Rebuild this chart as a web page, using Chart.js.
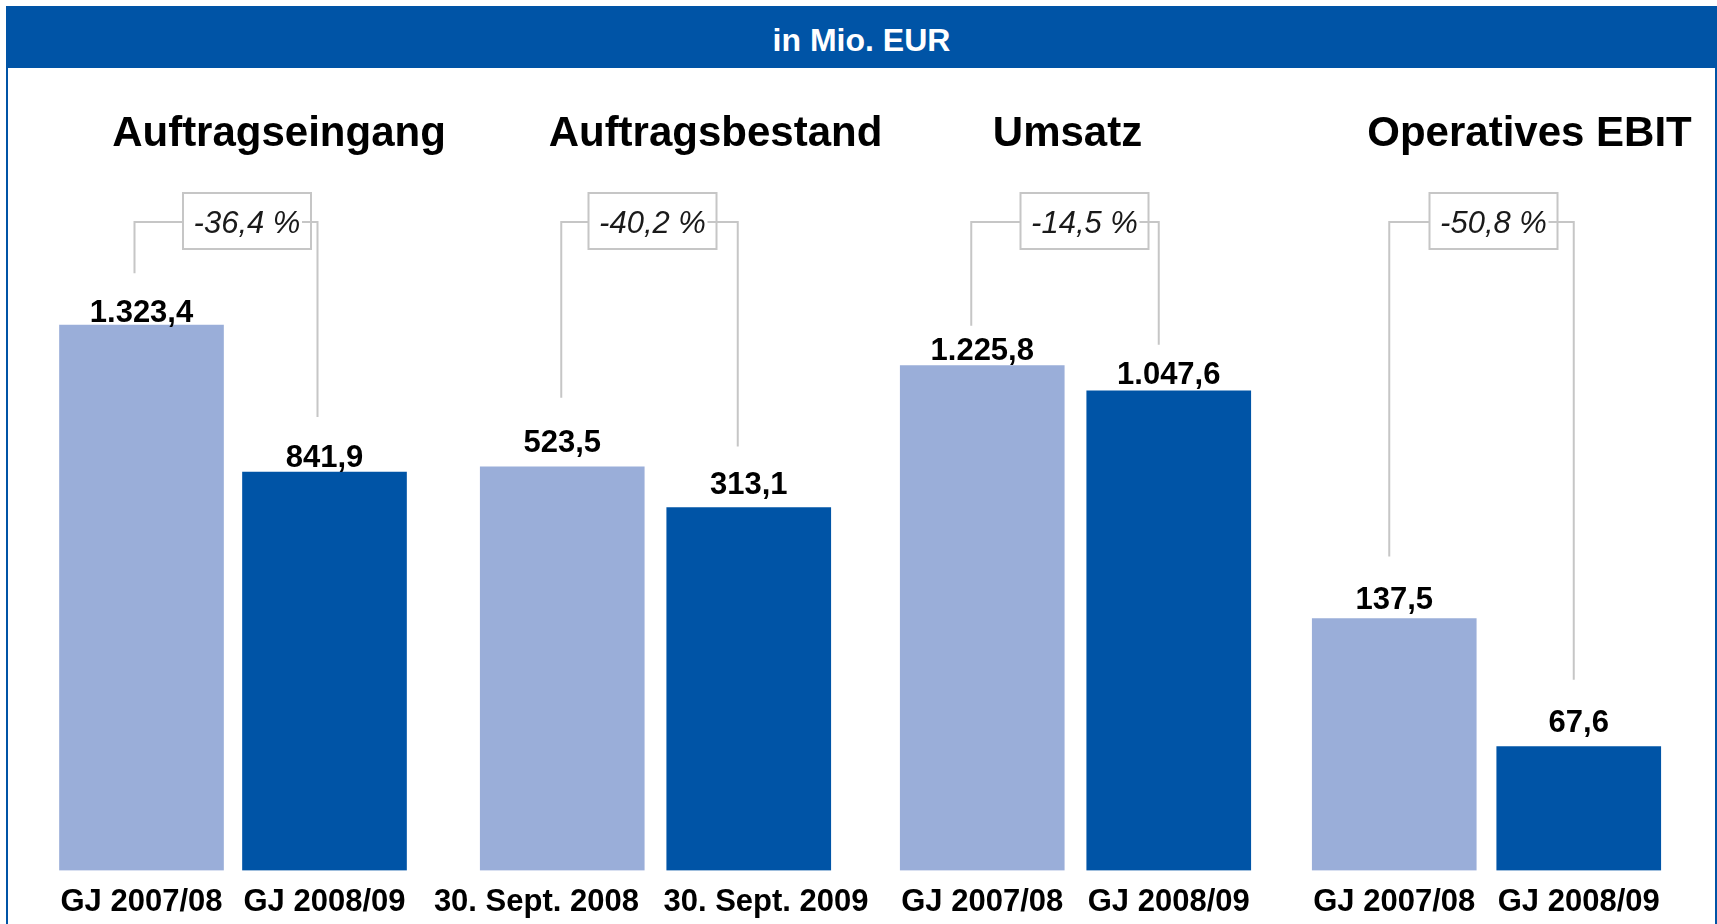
<!DOCTYPE html>
<html>
<head>
<meta charset="utf-8">
<title>in Mio. EUR</title>
<script src="https://cdn.jsdelivr.net/npm/chart.js@4.4.1/dist/chart.umd.min.js"></script>
<style>
  html, body { margin: 0; padding: 0; background: #fff; }
  body { width: 1717px; height: 924px; position: relative; overflow: hidden; font-family: "Liberation Sans", Arial, sans-serif; }
  #frame { position: absolute; left: 6px; top: 6px; width: 1711px; height: 940px; box-sizing: border-box; border-left: 2px solid #0054a6; border-right: 2px solid #0054a6; }
  #band { height: 62px; background: #0054a6; color: #fff; font-weight: bold; font-size: 32px; line-height: 68px; text-align: center; }
  canvas.panel { position: absolute; left: 0; top: 0; }
</style>
</head>
<body>
<div id="frame"><div id="band">in Mio. EUR</div></div>
<canvas class="panel" id="panel0" width="1717" height="924"></canvas>
<canvas class="panel" id="panel1" width="1717" height="924"></canvas>
<canvas class="panel" id="panel2" width="1717" height="924"></canvas>
<canvas class="panel" id="panel3" width="1717" height="924"></canvas>
<script>
const panel_titles = ["Auftragseingang", "Auftragsbestand", "Umsatz", "Operatives EBIT"];
const period_labels = [
  ["GJ 2007/08", "GJ 2008/09"],
  ["30. Sept. 2008", "30. Sept. 2009"],
  ["GJ 2007/08", "GJ 2008/09"],
  ["GJ 2007/08", "GJ 2008/09"]
];
const previous_values = [1323.4, 523.5, 1225.8, 137.5];
const current_values = [841.9, 313.1, 1047.6, 67.6];

const LIGHT = "#9aaed9";
const DARK = "#0054a6";
const LINE = "#c6c6c6";
const FONT = '"Liberation Sans", Arial, sans-serif';
const TICK_SIZE = 31;

// where each panel sits and how its (non proportional) value axis is cut
const panel_layout = [
  { left: 50, right: 416, yMin: -465, yMax: 1734, titleDx: 46, boxDx: 14, lineDx: [-7, -7], labelGap: [3, 5], lineGap: [27, 28], tickShift: [0, 0] },
  { left: 469, right: 842, yMin: -1559, yMax: 1899, titleDx: 60, boxDx: -3, lineDx: [-1, -11], labelGap: [15, 14], lineGap: [32, 25], tickShift: [-24, 16] },
  { left: 889, right: 1262, yMin: -2358, yMax: 2402, titleDx: -8, boxDx: 9, lineDx: [-11, -10], labelGap: [6, 7], lineGap: [12, 17], tickShift: [0, 0] },
  { left: 1302, right: 1671, yMin: 0, yMax: 366, titleDx: 43, boxDx: 7, lineDx: [-5, -5], labelGap: [10, 15], lineGap: [30, 30], tickShift: [0, 0] }
];

function fmtNum(v) {
  const parts = v.toFixed(1).split(".");
  return parts[0].replace(/\B(?=(\d{3})+(?!\d))/g, ".") + "," + parts[1];
}

function fmtChange(prev, curr) {
  return ((curr / prev - 1) * 100).toFixed(1).replace(".", ",") + " %";
}

const panel_text_plugin = {
  id: "panelText",
  afterDatasetsDraw(chart, args, opts) {
    const i = opts.index;
    const L = panel_layout[i];
    const values = [previous_values[i], current_values[i]];
    const bars = chart.getDatasetMeta(0).data;
    const ctx = chart.ctx;
    const mid = (bars[0].x + bars[1].x) / 2;
    ctx.save();
    ctx.fillStyle = "#000";
    ctx.textAlign = "center";
    ctx.textBaseline = "alphabetic";

    // panel title
    ctx.font = "bold 42px " + FONT;
    ctx.fillText(panel_titles[i], mid + L.titleDx, 146);

    // value labels
    ctx.font = "bold 31px " + FONT;
    bars.forEach(function(bar, j) {
      ctx.fillText(fmtNum(values[j]), bar.x, bar.y - L.labelGap[j]);
    });

    // bracket with change box
    const boxW = 128, boxH = 56, boxTop = 193, lineY = 222;
    const boxL = mid + L.boxDx - boxW / 2;
    const x1 = bars[0].x + L.lineDx[0];
    const x2 = bars[1].x + L.lineDx[1];
    const y1 = bars[0].y - L.labelGap[0] - 22 - L.lineGap[0];
    const y2 = bars[1].y - L.labelGap[1] - 22 - L.lineGap[1];
    ctx.strokeStyle = LINE;
    ctx.lineWidth = 2;
    ctx.beginPath();
    ctx.moveTo(x1, y1);
    ctx.lineTo(x1, lineY);
    ctx.lineTo(boxL, lineY);
    ctx.moveTo(boxL + boxW - 9, lineY);
    ctx.lineTo(x2, lineY);
    ctx.lineTo(x2, y2);
    ctx.stroke();
    ctx.strokeRect(boxL, boxTop, boxW, boxH);

    ctx.font = "italic 31px " + FONT;
    ctx.fillStyle = "#1a1a1a";
    ctx.textBaseline = "middle";
    ctx.fillText(fmtChange(values[0], values[1]), boxL + boxW / 2, boxTop + boxH / 2 + 3);
    ctx.restore();
  }
};

panel_titles.forEach(function(title, i) {
  const L = panel_layout[i];
  new Chart(document.getElementById("panel" + i), {
    type: "bar",
    data: {
      labels: period_labels[i],
      datasets: [{
        label: title,
        data: [previous_values[i], current_values[i]],
        backgroundColor: [LIGHT, DARK],
        borderWidth: 0,
        base: L.yMin,
        barThickness: 164
      }]
    },
    options: {
      responsive: false,
      animation: false,
      layout: { padding: { left: L.left, right: 1717 - L.right, top: 200, bottom: 0 } },
      plugins: {
        legend: { display: false },
        tooltip: { enabled: false },
        panelText: { index: i }
      },
      scales: {
        x: {
          grid: { display: false, drawTicks: false },
          border: { display: false },
          ticks: {
            color: "#000",
            font: { family: FONT, size: TICK_SIZE, weight: "bold" },
            padding: 13,
            maxRotation: 0,
            minRotation: 0,
            autoSkip: false,
            // long labels are pushed apart with non-breaking spaces
            callback: function(value, index) {
              const label = this.getLabelForValue(value);
              const shift = L.tickShift[index];
              const pad = "\u00a0".repeat(Math.round(Math.abs(shift) * 2 / (TICK_SIZE * 0.278)));
              return shift < 0 ? label + pad : pad + label;
            }
          },
          afterFit: function(scale) { scale.height = 53.5; }
        },
        y: { display: false, min: L.yMin, max: L.yMax }
      }
    },
    plugins: [panel_text_plugin]
  });
});
</script>
</body>
</html>
